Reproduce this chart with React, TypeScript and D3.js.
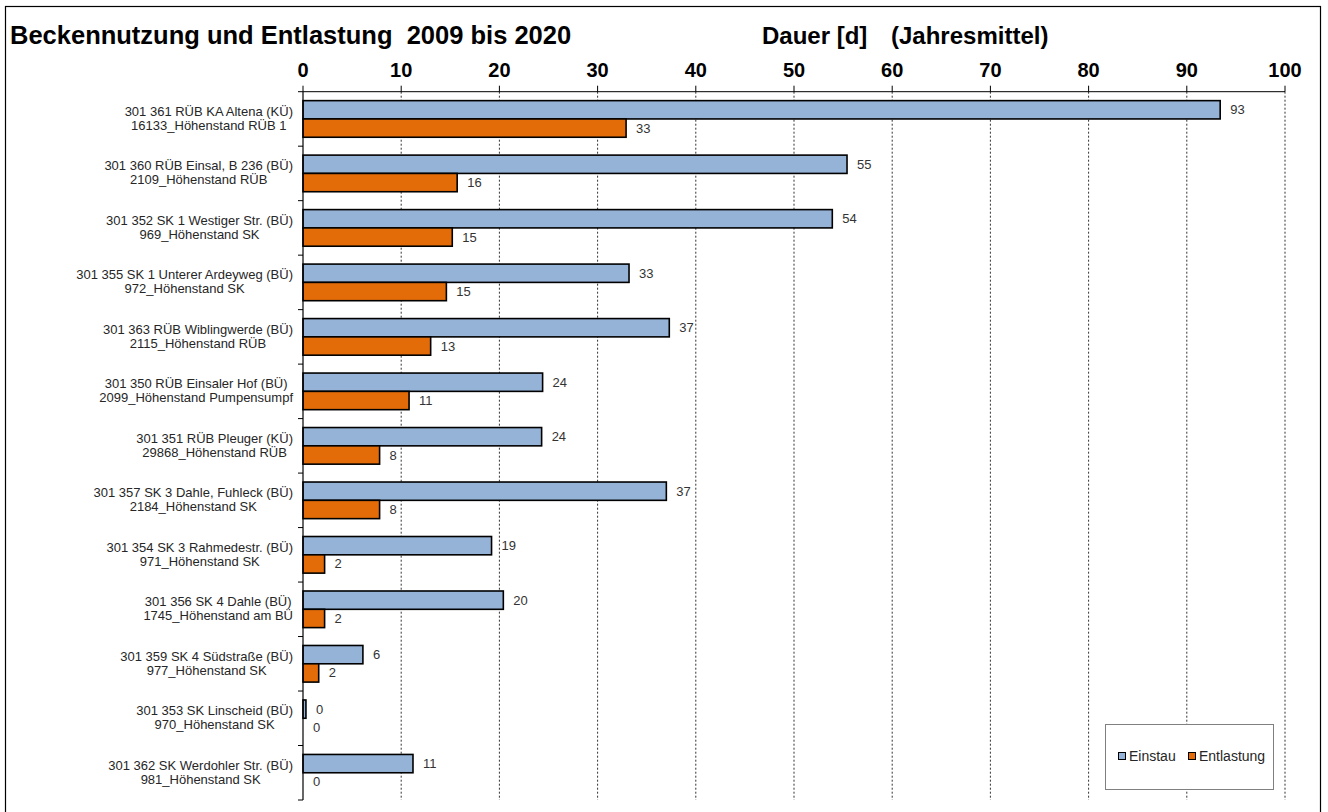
import React, { useEffect, useRef } from "react";
import * as d3 from "d3";

const stationNames = [
  "301 361 RÜB KA Altena (KÜ)",
  "301 360 RÜB Einsal, B 236 (BÜ)",
  "301 352 SK 1 Westiger Str. (BÜ)",
  "301 355 SK 1 Unterer Ardeyweg (BÜ)",
  "301 363 RÜB Wiblingwerde (BÜ)",
  "301 350 RÜB Einsaler Hof (BÜ)",
  "301 351 RÜB Pleuger (KÜ)",
  "301 357 SK 3 Dahle, Fuhleck (BÜ)",
  "301 354 SK 3 Rahmedestr. (BÜ)",
  "301 356 SK 4 Dahle (BÜ)",
  "301 359 SK 4 Südstraße (BÜ)",
  "301 353 SK Linscheid (BÜ)",
  "301 362 SK Werdohler Str. (BÜ)",
];
const sensorNames = [
  "16133_Höhenstand RÜB 1",
  "2109_Höhenstand RÜB",
  "969_Höhenstand SK",
  "972_Höhenstand SK",
  "2115_Höhenstand RÜB",
  "2099_Höhenstand Pumpensumpf",
  "29868_Höhenstand RÜB",
  "2184_Höhenstand SK",
  "971_Höhenstand SK",
  "1745_Höhenstand am BÜ",
  "977_Höhenstand SK",
  "970_Höhenstand SK",
  "981_Höhenstand SK",
];
const einstau = [93.4, 55.4, 53.9, 33.2, 37.3, 24.4, 24.3, 37.0, 19.2, 20.4, 6.1, 0.3, 11.2];
const entlastung = [32.9, 15.7, 15.2, 14.6, 13.0, 10.8, 7.8, 7.8, 2.2, 2.2, 1.6, 0, 0];
const xTicks = [0, 10, 20, 30, 40, 50, 60, 70, 80, 90, 100];
const seriesNames = ["Einstau", "Entlastung"];
const seriesColors = ["#95B3D7", "#E36C09"];

const FONT = "'Liberation Sans', Arial, sans-serif";

export default function App() {
  const ref = useRef<SVGSVGElement>(null);

  useEffect(() => {
    const svg = d3.select(ref.current);
    svg.selectAll("*").remove();

    const left = 303, right = 1285, top = 91.7, bottom = 800;
    const x = d3.scaleLinear().domain([0, 100]).range([left, right]);
    const cats = stationNames.map((_, i) => String(i));
    const y = d3.scaleBand().domain(cats).range([top, bottom]).paddingInner(0).paddingOuter(0);
    const bw = y.bandwidth();
    const barH = bw * 0.336;
    const barOff = bw * 0.164;

    // outer frame
    svg.append("rect").attr("x", 5.5).attr("y", 6.5).attr("width", 1315).attr("height", 830)
      .attr("fill", "#fff").attr("stroke", "#000").attr("stroke-width", 1.2);

    // title
    svg.append("text").attr("x", 10).attr("y", 44).attr("font-family", FONT).attr("font-weight", "bold")
      .attr("font-size", 25.5).attr("fill", "#000").text("Beckennutzung und Entlastung  2009 bis 2020")
      .attr("xml:space", "preserve").style("white-space", "pre");
    svg.append("text").attr("x", 762).attr("y", 44).attr("font-family", FONT).attr("font-weight", "bold")
      .attr("font-size", 24).attr("fill", "#000").text("Dauer [d]");
    svg.append("text").attr("x", 891).attr("y", 44).attr("font-family", FONT).attr("font-weight", "bold")
      .attr("font-size", 24).attr("fill", "#000").text("(Jahresmittel)");

    // gridlines
    const grid = svg.append("g");
    xTicks.forEach((t) => {
      if (t > 0) {
        grid.append("line").attr("x1", x(t)).attr("x2", x(t)).attr("y1", top).attr("y2", bottom)
          .attr("stroke", "#333").attr("stroke-width", 1).attr("stroke-dasharray", "2,2");
      }
      grid.append("line").attr("x1", x(t)).attr("x2", x(t)).attr("y1", top - 6).attr("y2", top)
        .attr("stroke", "#000").attr("stroke-width", 1);
      grid.append("text").attr("x", x(t)).attr("y", 77).attr("text-anchor", "middle")
        .attr("font-family", FONT).attr("font-weight", "bold").attr("font-size", 20).attr("fill", "#000")
        .text(d3.format("d")(t));
    });
    grid.append("line").attr("x1", left).attr("x2", right).attr("y1", top).attr("y2", top)
      .attr("stroke", "#000").attr("stroke-width", 1);

    // bars
    const barsG = svg.append("g");
    const series = [einstau, entlastung];
    series.forEach((vals, s) => {
      vals.forEach((v, i) => {
        const y0 = (y(String(i)) as number) + barOff + s * barH;
        barsG.append("rect").attr("x", x(0)).attr("y", y0).attr("width", x(v) - x(0)).attr("height", barH)
          .attr("fill", seriesColors[s]).attr("stroke", "#000").attr("stroke-width", 1.6);
        barsG.append("text").attr("x", x(v) + 10).attr("y", y0 + barH / 2 + 4.5)
          .attr("font-family", FONT).attr("font-size", 13).attr("fill", "#333")
          .text(d3.format(".0f")(v));
      });
    });

    // left axis
    svg.append("line").attr("x1", left).attr("x2", left).attr("y1", top).attr("y2", bottom)
      .attr("stroke", "#000").attr("stroke-width", 1.2);
    cats.forEach((c, i) => {
      const yy = (y(c) as number) + bw;
      svg.append("line").attr("x1", left - 5).attr("x2", left).attr("y1", yy).attr("y2", yy)
        .attr("stroke", "#000").attr("stroke-width", 1);
      if (i === 0) {
        svg.append("line").attr("x1", left - 5).attr("x2", left).attr("y1", top).attr("y2", top)
          .attr("stroke", "#000").attr("stroke-width", 1);
      }
    });

    // category labels (two centred lines, block right-aligned)
    const labG = svg.append("g");
    cats.forEach((c, i) => {
      const cy = (y(c) as number) + bw / 2;
      const t1 = labG.append("text").attr("font-family", FONT).attr("font-size", 13).attr("fill", "#262626")
        .attr("text-anchor", "middle").text(stationNames[i]);
      const t2 = labG.append("text").attr("font-family", FONT).attr("font-size", 13).attr("fill", "#262626")
        .attr("text-anchor", "middle").text(sensorNames[i]);
      const w1 = (t1.node() as SVGTextElement).getComputedTextLength();
      const w2 = (t2.node() as SVGTextElement).getComputedTextLength();
      const cx = 293 - Math.max(w1, w2) / 2;
      t1.attr("x", cx).attr("y", cy - 3);
      t2.attr("x", cx).attr("y", cy + 11);
    });

    // legend
    const lg = svg.append("g");
    lg.append("rect").attr("x", 1105.5).attr("y", 724.5).attr("width", 168).attr("height", 65)
      .attr("fill", "#fff").attr("stroke", "#808080").attr("stroke-width", 1);
    const legX = [1118.5, 1188.5];
    seriesNames.forEach((n, s) => {
      lg.append("rect").attr("x", legX[s]).attr("y", 752.5).attr("width", 7).attr("height", 7)
        .attr("fill", seriesColors[s]).attr("stroke", "#000").attr("stroke-width", 1);
      lg.append("text").attr("x", legX[s] + 10.5).attr("y", 761).attr("font-family", FONT)
        .attr("font-size", 14).attr("fill", "#262626").text(n);
    });
  }, []);

  return (
    <svg ref={ref} width={1328} height={812}
      style={{ position: "absolute", left: 0, top: 0, background: "#fff" }} />
  );
}
